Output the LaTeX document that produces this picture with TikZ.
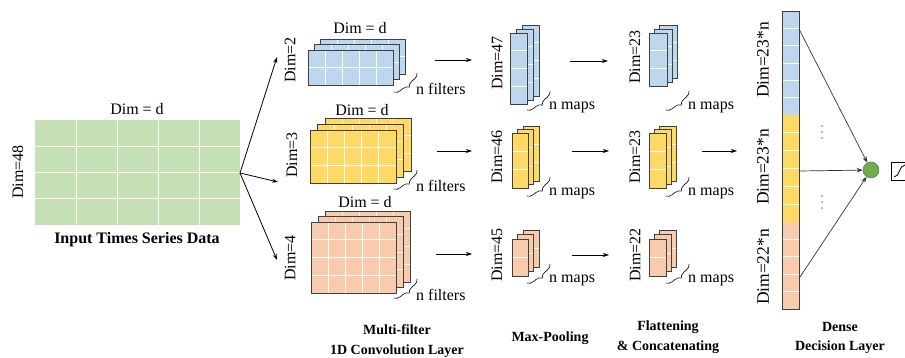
\documentclass[tikz,border=0pt]{standalone}
\usepackage{fontspec}
\setmainfont{Liberation Serif}
\usetikzlibrary{arrows.meta, decorations.pathreplacing}

\definecolor{inGreen}{HTML}{C5E0B4}
\definecolor{mapBlue}{HTML}{BDD7EE}
\definecolor{mapYellow}{HTML}{FFD966}
\definecolor{mapOrange}{HTML}{F8CBAD}
\definecolor{edgeGray}{HTML}{404040}
\definecolor{unitGreen}{HTML}{70AD47}
\definecolor{unitEdge}{HTML}{41719C}

\tikzset{
  lbl/.style={font=\fontsize{16}{18}\selectfont, inner sep=0pt},
  vlbl/.style={lbl, rotate=90},
  ttl/.style={font=\fontsize{14}{19.5}\selectfont\bfseries, align=center, inner sep=0pt},
  flow/.style={-{Stealth[length=6pt,width=4pt]}, line width=0.8pt},
  dense/.style={-{Stealth[length=6pt,width=4.5pt]}, line width=0.7pt, black!80},
  mapbrace/.style={decorate, decoration={brace, amplitude=6pt}, line width=0.6pt},
  cellline/.style={white, line width=0.8pt},
}

\begin{document}
\begin{tikzpicture}[x=1pt, y=-1pt]
\useasboundingbox (0,0) rectangle (905,358);

% input data
\fill[inGreen] (35,120) rectangle (240,225);
\foreach \k in {1,...,4} \draw[cellline] (35+\k*41,120) -- ++(0,105);
\foreach \k in {1,...,3} \draw[cellline] (35,120+\k*26.25) -- ++(205,0);
\coordinate (in) at (240,173);
\node[lbl] (inD) at (137,109) {Dim = d};
\node[vlbl] (inN) at (18,172) {Dim=48};
\node[lbl, font=\fontsize{16}{18}\selectfont\bfseries] (inT) at (137,240) {Input Times Series Data};

% stacks of feature maps: front corner, size, layer shift, cells, colour
\foreach \sx/\sy/\sw/\sh/\dx/\dy/\nc/\nr/\fc in {
  308/50/85/35/6/5.5/5/2/mapBlue,
  310/130/86/53/7.5/6/5/3/mapYellow,
  311/222/85/71/7/5.5/5/4/mapOrange,
  510/33/17/71/6/4/1/4/mapBlue,
  512/133/16/55/5.5/3.5/1/3/mapYellow,
  512/239/16/37/5.5/4.5/1/2/mapOrange,
  649/33/18/53/5/4/1/3/mapBlue,
  649/133/17/55/5/3.5/1/3/mapYellow,
  649/239/17/37/5/4.5/1/2/mapOrange}{
  \foreach \i in {2,1,0}{
    \pgfmathsetmacro\lx{\sx+\i*\dx}
    \pgfmathsetmacro\ly{\sy-\i*\dy}
    \fill[\fc] (\lx,\ly) rectangle ++(\sw,\sh);
    \foreach \k in {1,...,\nc} \draw[cellline] (\lx+\k*\sw/\nc,\ly) -- ++(0,\sh);
    \foreach \k in {1,...,\nr} \draw[cellline] (\lx,\ly+\k*\sh/\nr) -- ++(\sw,0);
    \draw[edgeGray, line width=0.7pt] (\lx,\ly) rectangle ++(\sw,\sh);
  }
}

% convolution labels
\node[lbl] (cbD) at (360,28) {Dim = d};
\node[lbl] (cyD) at (362,110) {Dim = d};
\node[lbl] (coD) at (365,202) {Dim = d};
\node[vlbl] (cbN) at (290,60) {Dim=2};
\node[vlbl] (cyN) at (292,155) {Dim=3};
\node[vlbl] (coN) at (290,258) {Dim=4};
\node[lbl, anchor=west] (cbF) at (416,89) {n filters};
\node[lbl, anchor=west] (cyF) at (416,186) {n filters};
\node[lbl, anchor=west] (coF) at (416,295) {n filters};

% map labels
\node[vlbl] (mbN) at (497,63) {Dim=47};
\node[vlbl] (myN) at (497,157) {Dim=46};
\node[vlbl] (moN) at (497,255) {Dim=45};
\node[lbl, anchor=west] (mbM) at (549,107) {n maps};
\node[lbl, anchor=west] (myM) at (549,193) {n maps};
\node[lbl, anchor=west] (moM) at (549,280) {n maps};
\node[vlbl] (pbN) at (635,57) {Dim=23};
\node[vlbl] (pyN) at (635,157) {Dim=23};
\node[vlbl] (poN) at (635,255) {Dim=22};
\node[lbl, anchor=west] (pbM) at (688,107) {n maps};
\node[lbl, anchor=west] (pyM) at (688,193) {n maps};
\node[lbl, anchor=west] (poM) at (688,280) {n maps};

% braces in front of the counts
\foreach \t in {cbF,cyF,coF,mbM,myM,moM,pbM,pyM,poM}
  \draw[mapbrace] ([shift={(1,-16)}]\t.west) -- ([shift={(-22,3)}]\t.west);

% flattened vector
\fill[mapBlue] (782,11) rectangle (799,115);
\fill[mapYellow] (782,115) rectangle (799,222);
\fill[mapOrange] (782,222) rectangle (799,309);
\foreach \k in {1,...,5} \draw[cellline] (782,11+\k*104/6) -- ++(17,0);
\foreach \k in {1,...,5} \draw[cellline] (782,115+\k*107/6) -- ++(17,0);
\foreach \k in {1,...,4} \draw[cellline] (782,222+\k*87/5) -- ++(17,0);
\draw[edgeGray, line width=0.7pt] (782,11) rectangle (799,309);
\node[vlbl, font=\fontsize{17.5}{18}\selectfont] (fbN) at (763,60) {Dim=23*n};
\node[vlbl, font=\fontsize{17.5}{18}\selectfont] (fyN) at (763,167) {Dim=23*n};
\node[vlbl, font=\fontsize{17.5}{18}\selectfont] (foN) at (763,267) {Dim=22*n};
\coordinate (fb) at (799,29);
\coordinate (fy) at (799,171);
\coordinate (fo) at (800,277);

% dense unit
\node[circle, fill=unitGreen, draw=unitEdge, line width=0.5pt, minimum size=16pt, inner sep=0pt] (unit) at (871,170) {};
\node[draw, line width=0.6pt, minimum size=18pt, inner sep=0pt, anchor=west] (act) at (891,171) {};
\draw[line width=0.8pt] (894,177) .. controls (900,177) and (899,165) .. (905,165);
\foreach \yy in {126,132,138,196,202,208} \fill[black!55] (822,\yy) circle (0.8);

% connectors
\coordinate (cb) at (277,57);
\coordinate (cy) at (278,182);
\coordinate (co) at (277,260);
\draw[flow] (in) -- (cb);
\draw[flow] (in) -- (cy);
\draw[flow] (in) -- (co);
\foreach \na/\xa/\xb/\yy in {b1/435/472/60, y1/437/472/151, o1/436/472/254,
  b2/570/608/61, y2/572/609/151, o2/572/609/255, y3/702/737/151}{
  \coordinate (s\na) at (\xa,\yy);
  \coordinate (e\na) at (\xb,\yy);
  \draw[flow] (s\na) -- (e\na);
}
\draw[dense] (fb) -- (unit);
\draw[dense] (fy) -- (unit);
\draw[dense] (fo) -- (unit);

% layer titles
\node[ttl] (tConv) at (397,341) {Multi-filter\\1D Convolution Layer};
\node[ttl] (tPool) at (550,338) {Max-Pooling};
\node[ttl] (tFlat) at (668,337) {Flattening\\\& Concatenating};
\node[ttl] (tDense) at (840,338) {Dense\\Decision Layer};
\end{tikzpicture}
\end{document}
